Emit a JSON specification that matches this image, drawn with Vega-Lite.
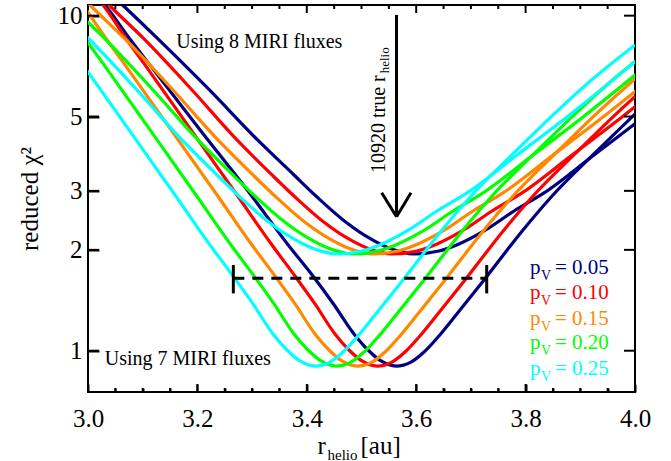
{
 "$schema":"https://vega.github.io/schema/vega-lite/v6.json",
 "width":547,"height":387,
 "autosize":{"type":"none"},
 "padding":{"left":88,"top":5,"right":36,"bottom":69},
 "background":"white",
 "config":{
  "view":{"stroke":"black","strokeWidth":2},
  "axis":{"grid":false,"domain":false,"tickColor":"black","tickWidth":2,"labelFont":"Liberation Serif","titleFont":"Liberation Serif","labelColor":"black","titleColor":"black","labelFontSize":25,"titleFontSize":25,"titleFontWeight":"normal","labelFlush":false,"labelOverlap":false},
  "text":{"font":"Liberation Serif"}
 },
 "datasets":{
  "curves":[
   {"pv":"0.05","set":"7","x":2.985,"y":12.96},{"pv":"0.05","set":"7","x":3.031,"y":10.76},{"pv":"0.05","set":"7","x":3.078,"y":8.46},{"pv":"0.05","set":"7","x":3.113,"y":7.13},{"pv":"0.05","set":"7","x":3.205,"y":4.56},{"pv":"0.05","set":"7","x":3.298,"y":2.916},{"pv":"0.05","set":"7","x":3.366,"y":2.068},{"pv":"0.05","set":"7","x":3.4112,"y":1.671},{"pv":"0.05","set":"7","x":3.4488,"y":1.379},{"pv":"0.05","set":"7","x":3.4863,"y":1.122},{"pv":"0.05","set":"7","x":3.5119,"y":1.005},{"pv":"0.05","set":"7","x":3.5357,"y":0.932},{"pv":"0.05","set":"7","x":3.5631,"y":0.900},{"pv":"0.05","set":"7","x":3.5905,"y":0.925},{"pv":"0.05","set":"7","x":3.6143,"y":0.991},{"pv":"0.05","set":"7","x":3.6399,"y":1.099},{"pv":"0.05","set":"7","x":3.6728,"y":1.278},{"pv":"0.05","set":"7","x":3.7240,"y":1.626},{"pv":"0.05","set":"7","x":3.7953,"y":2.293},{"pv":"0.05","set":"7","x":3.8501,"y":2.916},{"pv":"0.05","set":"7","x":3.9287,"y":3.92},{"pv":"0.05","set":"7","x":4.0019,"y":5.12},
   {"pv":"0.05","set":"8","x":3.030,"y":12.09},{"pv":"0.05","set":"8","x":3.069,"y":10.54},{"pv":"0.05","set":"8","x":3.126,"y":8.58},{"pv":"0.05","set":"8","x":3.222,"y":6.00},{"pv":"0.05","set":"8","x":3.310,"y":4.256},{"pv":"0.05","set":"8","x":3.3766,"y":3.346},{"pv":"0.05","set":"8","x":3.4187,"y":2.876},{"pv":"0.05","set":"8","x":3.4735,"y":2.405},{"pv":"0.05","set":"8","x":3.5137,"y":2.170},{"pv":"0.05","set":"8","x":3.5503,"y":2.025},{"pv":"0.05","set":"8","x":3.5960,"y":1.944},{"pv":"0.05","set":"8","x":3.6417,"y":1.984},{"pv":"0.05","set":"8","x":3.6783,"y":2.082},{"pv":"0.05","set":"8","x":3.7240,"y":2.277},{"pv":"0.05","set":"8","x":3.7788,"y":2.612},{"pv":"0.05","set":"8","x":3.8337,"y":2.957},{"pv":"0.05","set":"8","x":3.9251,"y":3.838},{"pv":"0.05","set":"8","x":4.0165,"y":4.984},
   {"pv":"0.10","set":"7","x":2.9799,"y":12.96},{"pv":"0.10","set":"7","x":3.0274,"y":10.76},{"pv":"0.10","set":"7","x":3.0713,"y":8.46},{"pv":"0.10","set":"7","x":3.1042,"y":7.13},{"pv":"0.10","set":"7","x":3.1883,"y":4.56},{"pv":"0.10","set":"7","x":3.2724,"y":2.916},{"pv":"0.10","set":"7","x":3.3363,"y":2.068},{"pv":"0.10","set":"7","x":3.3784,"y":1.671},{"pv":"0.10","set":"7","x":3.4150,"y":1.379},{"pv":"0.10","set":"7","x":3.4515,"y":1.122},{"pv":"0.10","set":"7","x":3.4771,"y":1.005},{"pv":"0.10","set":"7","x":3.5009,"y":0.932},{"pv":"0.10","set":"7","x":3.5283,"y":0.900},{"pv":"0.10","set":"7","x":3.5557,"y":0.925},{"pv":"0.10","set":"7","x":3.5795,"y":0.991},{"pv":"0.10","set":"7","x":3.6051,"y":1.099},{"pv":"0.10","set":"7","x":3.6380,"y":1.278},{"pv":"0.10","set":"7","x":3.6892,"y":1.626},{"pv":"0.10","set":"7","x":3.7605,"y":2.293},{"pv":"0.10","set":"7","x":3.8153,"y":2.916},{"pv":"0.10","set":"7","x":3.8939,"y":3.92},{"pv":"0.10","set":"7","x":3.9671,"y":5.12},{"pv":"0.10","set":"7","x":4.0402,"y":6.56},
   {"pv":"0.10","set":"8","x":3.0074,"y":12.09},{"pv":"0.10","set":"8","x":3.0439,"y":10.54},{"pv":"0.10","set":"8","x":3.1006,"y":8.58},{"pv":"0.10","set":"8","x":3.1902,"y":6.00},{"pv":"0.10","set":"8","x":3.2724,"y":4.256},{"pv":"0.10","set":"8","x":3.3364,"y":3.346},{"pv":"0.10","set":"8","x":3.3785,"y":2.876},{"pv":"0.10","set":"8","x":3.4333,"y":2.405},{"pv":"0.10","set":"8","x":3.4735,"y":2.170},{"pv":"0.10","set":"8","x":3.5101,"y":2.025},{"pv":"0.10","set":"8","x":3.5558,"y":1.944},{"pv":"0.10","set":"8","x":3.6015,"y":1.984},{"pv":"0.10","set":"8","x":3.6381,"y":2.082},{"pv":"0.10","set":"8","x":3.6838,"y":2.277},{"pv":"0.10","set":"8","x":3.7386,"y":2.612},{"pv":"0.10","set":"8","x":3.7935,"y":2.957},{"pv":"0.10","set":"8","x":3.8849,"y":3.838},{"pv":"0.10","set":"8","x":3.9763,"y":4.984},{"pv":"0.10","set":"8","x":4.1006,"y":7.27},
   {"pv":"0.15","set":"7","x":2.9909,"y":10.76},{"pv":"0.15","set":"7","x":3.0348,"y":8.46},{"pv":"0.15","set":"7","x":3.0677,"y":7.13},{"pv":"0.15","set":"7","x":3.1518,"y":4.56},{"pv":"0.15","set":"7","x":3.2359,"y":2.916},{"pv":"0.15","set":"7","x":3.2998,"y":2.068},{"pv":"0.15","set":"7","x":3.3419,"y":1.671},{"pv":"0.15","set":"7","x":3.3785,"y":1.379},{"pv":"0.15","set":"7","x":3.4150,"y":1.122},{"pv":"0.15","set":"7","x":3.4406,"y":1.005},{"pv":"0.15","set":"7","x":3.4644,"y":0.932},{"pv":"0.15","set":"7","x":3.4918,"y":0.900},{"pv":"0.15","set":"7","x":3.5192,"y":0.925},{"pv":"0.15","set":"7","x":3.5430,"y":0.991},{"pv":"0.15","set":"7","x":3.5686,"y":1.099},{"pv":"0.15","set":"7","x":3.6015,"y":1.278},{"pv":"0.15","set":"7","x":3.6527,"y":1.626},{"pv":"0.15","set":"7","x":3.7240,"y":2.293},{"pv":"0.15","set":"7","x":3.7788,"y":2.916},{"pv":"0.15","set":"7","x":3.8574,"y":3.92},{"pv":"0.15","set":"7","x":3.9306,"y":5.12},{"pv":"0.15","set":"7","x":4.0037,"y":6.56},
   {"pv":"0.15","set":"8","x":2.9726,"y":12.09},{"pv":"0.15","set":"8","x":3.0091,"y":10.54},{"pv":"0.15","set":"8","x":3.0658,"y":8.58},{"pv":"0.15","set":"8","x":3.1554,"y":6.00},{"pv":"0.15","set":"8","x":3.2376,"y":4.256},{"pv":"0.15","set":"8","x":3.3016,"y":3.346},{"pv":"0.15","set":"8","x":3.3437,"y":2.876},{"pv":"0.15","set":"8","x":3.3985,"y":2.405},{"pv":"0.15","set":"8","x":3.4387,"y":2.170},{"pv":"0.15","set":"8","x":3.4753,"y":2.025},{"pv":"0.15","set":"8","x":3.5210,"y":1.944},{"pv":"0.15","set":"8","x":3.5667,"y":1.984},{"pv":"0.15","set":"8","x":3.6033,"y":2.082},{"pv":"0.15","set":"8","x":3.6490,"y":2.277},{"pv":"0.15","set":"8","x":3.7038,"y":2.612},{"pv":"0.15","set":"8","x":3.7587,"y":2.957},{"pv":"0.15","set":"8","x":3.8501,"y":3.838},{"pv":"0.15","set":"8","x":3.9415,"y":4.984},{"pv":"0.15","set":"8","x":4.0658,"y":7.27},
   {"pv":"0.20","set":"7","x":2.9964,"y":8.46},{"pv":"0.20","set":"7","x":3.0293,"y":7.13},{"pv":"0.20","set":"7","x":3.1134,"y":4.56},{"pv":"0.20","set":"7","x":3.1975,"y":2.916},{"pv":"0.20","set":"7","x":3.2614,"y":2.068},{"pv":"0.20","set":"7","x":3.3035,"y":1.671},{"pv":"0.20","set":"7","x":3.3401,"y":1.379},{"pv":"0.20","set":"7","x":3.3766,"y":1.122},{"pv":"0.20","set":"7","x":3.4022,"y":1.005},{"pv":"0.20","set":"7","x":3.4260,"y":0.932},{"pv":"0.20","set":"7","x":3.4534,"y":0.900},{"pv":"0.20","set":"7","x":3.4808,"y":0.925},{"pv":"0.20","set":"7","x":3.5046,"y":0.991},{"pv":"0.20","set":"7","x":3.5302,"y":1.099},{"pv":"0.20","set":"7","x":3.5631,"y":1.278},{"pv":"0.20","set":"7","x":3.6143,"y":1.626},{"pv":"0.20","set":"7","x":3.6856,"y":2.293},{"pv":"0.20","set":"7","x":3.7404,"y":2.916},{"pv":"0.20","set":"7","x":3.8190,"y":3.92},{"pv":"0.20","set":"7","x":3.8922,"y":5.12},{"pv":"0.20","set":"7","x":3.9653,"y":6.56},{"pv":"0.20","set":"7","x":4.0384,"y":8.18},
   {"pv":"0.20","set":"8","x":2.9726,"y":10.54},{"pv":"0.20","set":"8","x":3.0293,"y":8.58},{"pv":"0.20","set":"8","x":3.1189,"y":6.00},{"pv":"0.20","set":"8","x":3.2011,"y":4.256},{"pv":"0.20","set":"8","x":3.2651,"y":3.346},{"pv":"0.20","set":"8","x":3.3072,"y":2.876},{"pv":"0.20","set":"8","x":3.3620,"y":2.405},{"pv":"0.20","set":"8","x":3.4022,"y":2.170},{"pv":"0.20","set":"8","x":3.4388,"y":2.025},{"pv":"0.20","set":"8","x":3.4845,"y":1.944},{"pv":"0.20","set":"8","x":3.5302,"y":1.984},{"pv":"0.20","set":"8","x":3.5668,"y":2.082},{"pv":"0.20","set":"8","x":3.6125,"y":2.277},{"pv":"0.20","set":"8","x":3.6673,"y":2.612},{"pv":"0.20","set":"8","x":3.7222,"y":2.957},{"pv":"0.20","set":"8","x":3.8136,"y":3.838},{"pv":"0.20","set":"8","x":3.9050,"y":4.984},{"pv":"0.20","set":"8","x":4.0293,"y":7.27},
   {"pv":"0.25","set":"7","x":2.9909,"y":7.13},{"pv":"0.25","set":"7","x":3.0750,"y":4.56},{"pv":"0.25","set":"7","x":3.1591,"y":2.916},{"pv":"0.25","set":"7","x":3.2230,"y":2.068},{"pv":"0.25","set":"7","x":3.2651,"y":1.671},{"pv":"0.25","set":"7","x":3.3017,"y":1.379},{"pv":"0.25","set":"7","x":3.3382,"y":1.122},{"pv":"0.25","set":"7","x":3.3638,"y":1.005},{"pv":"0.25","set":"7","x":3.3876,"y":0.932},{"pv":"0.25","set":"7","x":3.4150,"y":0.900},{"pv":"0.25","set":"7","x":3.4424,"y":0.925},{"pv":"0.25","set":"7","x":3.4662,"y":0.991},{"pv":"0.25","set":"7","x":3.4918,"y":1.099},{"pv":"0.25","set":"7","x":3.5247,"y":1.278},{"pv":"0.25","set":"7","x":3.5759,"y":1.626},{"pv":"0.25","set":"7","x":3.6472,"y":2.293},{"pv":"0.25","set":"7","x":3.7020,"y":2.916},{"pv":"0.25","set":"7","x":3.7806,"y":3.92},{"pv":"0.25","set":"7","x":3.8538,"y":5.12},{"pv":"0.25","set":"7","x":3.9269,"y":6.56},{"pv":"0.25","set":"7","x":4.0000,"y":8.18},
   {"pv":"0.25","set":"8","x":2.9433,"y":10.54},{"pv":"0.25","set":"8","x":3.0000,"y":8.58},{"pv":"0.25","set":"8","x":3.0896,"y":6.00},{"pv":"0.25","set":"8","x":3.1718,"y":4.256},{"pv":"0.25","set":"8","x":3.2358,"y":3.346},{"pv":"0.25","set":"8","x":3.2779,"y":2.876},{"pv":"0.25","set":"8","x":3.3327,"y":2.405},{"pv":"0.25","set":"8","x":3.3729,"y":2.170},{"pv":"0.25","set":"8","x":3.4095,"y":2.025},{"pv":"0.25","set":"8","x":3.4552,"y":1.944},{"pv":"0.25","set":"8","x":3.5009,"y":1.984},{"pv":"0.25","set":"8","x":3.5375,"y":2.082},{"pv":"0.25","set":"8","x":3.5832,"y":2.277},{"pv":"0.25","set":"8","x":3.6380,"y":2.612},{"pv":"0.25","set":"8","x":3.6929,"y":2.957},{"pv":"0.25","set":"8","x":3.7843,"y":3.838},{"pv":"0.25","set":"8","x":3.8757,"y":4.984},{"pv":"0.25","set":"8","x":4.0000,"y":7.27}
  ],
  "xmaj":[{"v":3.2},{"v":3.4},{"v":3.6},{"v":3.8}],
  "xmin":[{"v":3.05},{"v":3.1},{"v":3.15},{"v":3.25},{"v":3.3},{"v":3.35},{"v":3.45},{"v":3.5},{"v":3.55},{"v":3.65},{"v":3.7},{"v":3.75},{"v":3.85},{"v":3.9},{"v":3.95}],
  "ymaj":[{"v":1},{"v":2},{"v":3},{"v":5},{"v":10}],
  "bar":[{"x":3.2657,"x2":3.7289,"y":1.645}],
  "caps":[{"x":3.2657,"y":1.803,"y2":1.483},{"x":3.7289,"y":1.803,"y2":1.483}],
  "arrow":[{"x":3.5640,"y":10.05,"x2":3.5640,"y2":2.512},{"x":3.5369,"y":2.962,"x2":3.5640,"y2":2.512},{"x":3.5905,"y":2.962,"x2":3.5640,"y2":2.512}],
  "notes":[{"t":"Using 8 MIRI fluxes","x":3.1614,"y":8.01},{"t":"Using 7 MIRI fluxes","x":3.0305,"y":0.906}],
  "vert":[{"t":"10920 true r","x":3.5430,"y":3.392}],
  "vertsub":[{"t":"helio","x":3.5503,"y":6.73}],
  "legend":[{"pv":"0.05","y":1.691,"t":"= 0.05"},{"pv":"0.10","y":1.424,"t":"= 0.10"},{"pv":"0.15","y":1.193,"t":"= 0.15"},{"pv":"0.20","y":1.012,"t":"= 0.20"},{"pv":"0.25","y":0.846,"t":"= 0.25"}]
 },
 "resolve":{"axis":{"x":"independent","y":"independent"}},
 "layer":[
  {
   "data":{"name":"curves"},
   "mark":{"type":"line","strokeWidth":3.2,"clip":true,"interpolate":"monotone"},
   "encoding":{
    "x":{"field":"x","type":"quantitative","scale":{"domain":[3,4],"nice":false,"zero":false},
         "axis":{"orient":"bottom","offset":-8,"values":[3,3.2,3.4,3.6,3.8,4],"format":".1f","tickSize":8,"labelPadding":14,"title":"r","titleX":229,"titleY":69,"titleAlign":"left","titleAnchor":"start","titleBaseline":"alphabetic"}},
    "y":{"field":"y","type":"quantitative","scale":{"type":"log","domain":[0.753,10.76],"nice":false},
         "axis":{"orient":"left","offset":-11,"values":[1,2,3,5,10],"format":"d","tickSize":11,"labelPadding":6,"title":"reduced χ²","titleX":-62,"titleY":193.5,"titleAngle":270,"titleAlign":"center","titleBaseline":"alphabetic"}},
    "color":{"field":"pv","type":"nominal","scale":{"domain":["0.05","0.10","0.15","0.20","0.25"],"range":["#000080","#FF0000","#FF8800","#00FF00","#00FFFF"]},"legend":null},
    "detail":{"field":"set"}
   }
  },
  {
   "data":{"name":"bar"},
   "mark":{"type":"rule","strokeDash":[11,8],"strokeWidth":3,"color":"black"},
   "encoding":{
    "x":{"field":"x","type":"quantitative","scale":{"domain":[3,4],"nice":false,"zero":false},
         "axis":{"orient":"bottom","offset":-4,"values":[3.05,3.1,3.15,3.25,3.3,3.35,3.45,3.5,3.55,3.65,3.7,3.75,3.85,3.9,3.95],"tickSize":4,"labels":false,"title":"helio","titleFontSize":15,"titleX":239,"titleY":71,"titleAlign":"left","titleAnchor":"start","titleBaseline":"alphabetic"}},
    "x2":{"field":"x2"},
    "y":{"field":"y","type":"quantitative","scale":{"type":"log","domain":[0.753,10.76],"nice":false},"axis":null}
   }
  },
  {
   "data":{"name":"caps"},
   "mark":{"type":"rule","strokeWidth":3,"color":"black"},
   "encoding":{
    "x":{"field":"x","type":"quantitative","scale":{"domain":[3,4],"nice":false,"zero":false},"axis":null},
    "y":{"field":"y","type":"quantitative","scale":{"type":"log","domain":[0.753,10.76],"nice":false},"axis":null},
    "y2":{"field":"y2"}
   }
  },
  {
   "data":{"name":"arrow"},
   "mark":{"type":"rule","strokeWidth":3,"color":"black"},
   "encoding":{
    "x":{"field":"x","type":"quantitative","scale":{"domain":[3,4],"nice":false,"zero":false},"axis":null},
    "x2":{"field":"x2"},
    "y":{"field":"y","type":"quantitative","scale":{"type":"log","domain":[0.753,10.76],"nice":false},"axis":null},
    "y2":{"field":"y2"}
   }
  },
  {
   "data":{"name":"xmaj"},
   "mark":{"type":"rule","strokeWidth":2,"color":"black"},
   "encoding":{
    "x":{"field":"v","type":"quantitative","scale":{"domain":[3,4],"nice":false,"zero":false},"axis":null},
    "y":{"datum":0.753,"type":"quantitative","scale":{"type":"log","domain":[0.753,10.76],"nice":false},"axis":null},
    "y2":{"datum":0.7956}
   }
  },
  {
   "data":{"name":"xmaj"},
   "mark":{"type":"rule","strokeWidth":2,"color":"black"},
   "encoding":{
    "x":{"field":"v","type":"quantitative","scale":{"domain":[3,4],"nice":false,"zero":false},"axis":null},
    "y":{"datum":10.76,"type":"quantitative","scale":{"type":"log","domain":[0.753,10.76],"nice":false},"axis":null},
    "y2":{"datum":10.185}
   }
  },
  {
   "data":{"name":"xmin"},
   "mark":{"type":"rule","strokeWidth":2,"color":"black"},
   "encoding":{
    "x":{"field":"v","type":"quantitative","scale":{"domain":[3,4],"nice":false,"zero":false},"axis":null},
    "y":{"datum":0.753,"type":"quantitative","scale":{"type":"log","domain":[0.753,10.76],"nice":false},"axis":null},
    "y2":{"datum":0.774}
   }
  },
  {
   "data":{"name":"xmin"},
   "mark":{"type":"rule","strokeWidth":2,"color":"black"},
   "encoding":{
    "x":{"field":"v","type":"quantitative","scale":{"domain":[3,4],"nice":false,"zero":false},"axis":null},
    "y":{"datum":10.76,"type":"quantitative","scale":{"type":"log","domain":[0.753,10.76],"nice":false},"axis":null},
    "y2":{"datum":10.468}
   }
  },
  {
   "data":{"name":"ymaj"},
   "mark":{"type":"rule","strokeWidth":2,"color":"black"},
   "encoding":{
    "x":{"datum":3,"type":"quantitative","scale":{"domain":[3,4],"nice":false,"zero":false},"axis":null},
    "x2":{"datum":3.0201},
    "y":{"field":"v","type":"quantitative","scale":{"type":"log","domain":[0.753,10.76],"nice":false},"axis":null}
   }
  },
  {
   "data":{"name":"ymaj"},
   "mark":{"type":"rule","strokeWidth":2,"color":"black"},
   "encoding":{
    "x":{"datum":4,"type":"quantitative","scale":{"domain":[3,4],"nice":false,"zero":false},"axis":null},
    "x2":{"datum":3.9799},
    "y":{"field":"v","type":"quantitative","scale":{"type":"log","domain":[0.753,10.76],"nice":false},"axis":null}
   }
  },
  {
   "data":{"name":"notes"},
   "mark":{"type":"text","fontSize":20,"align":"left","baseline":"alphabetic","color":"black"},
   "encoding":{
    "x":{"field":"x","type":"quantitative","scale":{"domain":[3,4],"nice":false,"zero":false},
         "axis":{"orient":"bottom","ticks":false,"labels":false,"title":"[au]","titleX":272,"titleY":61,"titleAlign":"left","titleAnchor":"start","titleBaseline":"alphabetic"}},
    "y":{"field":"y","type":"quantitative","scale":{"type":"log","domain":[0.753,10.76],"nice":false},"axis":null},
    "text":{"field":"t"}
   }
  },
  {
   "data":{"name":"vert"},
   "mark":{"type":"text","fontSize":20,"align":"left","baseline":"alphabetic","angle":270,"color":"black"},
   "encoding":{
    "x":{"field":"x","type":"quantitative","scale":{"domain":[3,4],"nice":false,"zero":false},"axis":null},
    "y":{"field":"y","type":"quantitative","scale":{"type":"log","domain":[0.753,10.76],"nice":false},"axis":null},
    "text":{"field":"t"}
   }
  },
  {
   "data":{"name":"vertsub"},
   "mark":{"type":"text","fontSize":13,"align":"left","baseline":"alphabetic","angle":270,"color":"black"},
   "encoding":{
    "x":{"field":"x","type":"quantitative","scale":{"domain":[3,4],"nice":false,"zero":false},"axis":null},
    "y":{"field":"y","type":"quantitative","scale":{"type":"log","domain":[0.753,10.76],"nice":false},"axis":null},
    "text":{"field":"t"}
   }
  },
  {
   "data":{"name":"legend"},
   "mark":{"type":"text","fontSize":21,"align":"left","baseline":"alphabetic"},
   "encoding":{
    "x":{"datum":3.808,"type":"quantitative","scale":{"domain":[3,4],"nice":false,"zero":false},"axis":null},
    "y":{"field":"y","type":"quantitative","scale":{"type":"log","domain":[0.753,10.76],"nice":false},"axis":null},
    "color":{"field":"pv","type":"nominal","legend":null},
    "text":{"value":"p"}
   }
  },
  {
   "data":{"name":"legend"},
   "mark":{"type":"text","fontSize":14,"align":"left","baseline":"alphabetic","dx":11,"dy":6},
   "encoding":{
    "x":{"datum":3.808,"type":"quantitative","scale":{"domain":[3,4],"nice":false,"zero":false},"axis":null},
    "y":{"field":"y","type":"quantitative","scale":{"type":"log","domain":[0.753,10.76],"nice":false},"axis":null},
    "color":{"field":"pv","type":"nominal","legend":null},
    "text":{"value":"V"}
   }
  },
  {
   "data":{"name":"legend"},
   "mark":{"type":"text","fontSize":21,"align":"left","baseline":"alphabetic","dx":25},
   "encoding":{
    "x":{"datum":3.808,"type":"quantitative","scale":{"domain":[3,4],"nice":false,"zero":false},"axis":null},
    "y":{"field":"y","type":"quantitative","scale":{"type":"log","domain":[0.753,10.76],"nice":false},"axis":null},
    "color":{"field":"pv","type":"nominal","legend":null},
    "text":{"field":"t"}
   }
  }
 ]
}
